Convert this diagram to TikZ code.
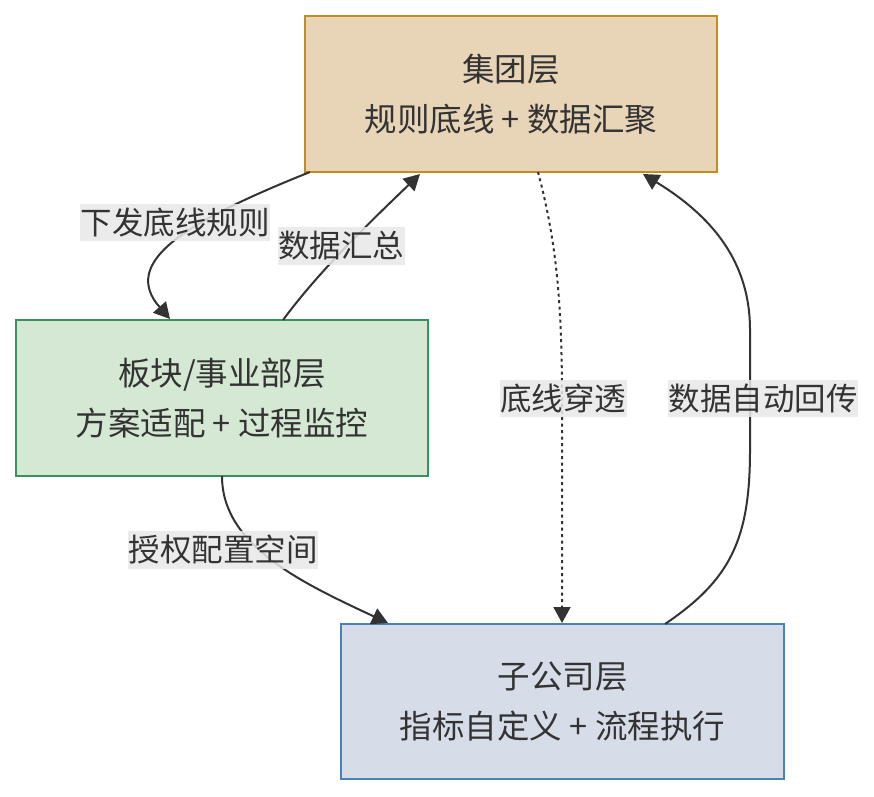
\documentclass[tikz,border=0pt]{standalone}
\usepackage{fontspec}
\setmainfont{Noto Sans CJK SC}
\usetikzlibrary{arrows.meta}
\definecolor{txt}{HTML}{333333}
\definecolor{topfill}{HTML}{E8D5B7}
\definecolor{topdraw}{HTML}{C18E1E}
\definecolor{midfill}{HTML}{D5E8D4}
\definecolor{middraw}{HTML}{3A9160}
\definecolor{botfill}{HTML}{D6DCE8}
\definecolor{botdraw}{HTML}{4A82B8}
\definecolor{lblfill}{HTML}{E8E8E8}
\tikzset{
  layer/.style={draw, line width=1.8pt, inner sep=0pt, align=center, text=txt,
    font=\fontsize{32.5}{50}\selectfont},
  lbl/.style={fill=lblfill, fill opacity=0.85, text opacity=1, text=txt,
    inner xsep=0.5pt, inner ysep=4pt, font=\fontsize{31.5}{38}\selectfont},
  conn/.style={draw=txt, line width=2pt, -{Triangle[length=16pt,width=17pt]}},
}
\begin{document}
\begin{tikzpicture}[x=1pt,y=-1pt]
\useasboundingbox (0,0) rectangle (874,796);
\node[layer, fill=topfill, draw=topdraw, minimum width=412, minimum height=156] (top) at (511,94) {集团层\\规则底线 + 数据汇聚};
\node[layer, fill=midfill, draw=middraw, minimum width=412, minimum height=156] (mid) at (222,398) {板块/事业部层\\方案适配 + 过程监控};
\node[layer, fill=botfill, draw=botdraw, minimum width=443, minimum height=155] (bot) at (562.5,701.5) {子公司层\\指标自定义 + 流程执行};

\coordinate (t1) at (310,172);
\coordinate (t2) at (420,174);
\coordinate (t3) at (538,172);
\coordinate (t4) at (643,174);
\coordinate (m1) at (170,319);
\coordinate (m2) at (283,320);
\coordinate (m3) at (222,476);
\coordinate (b1) at (388,623);
\coordinate (b2) at (562,623);
\coordinate (b3) at (665,624);

\draw[conn] (t1) .. controls (185,222) and (120,262) .. (m1);
\draw[conn] (m2) .. controls (320,270) and (370,222) .. (t2);
\draw[conn, dash pattern=on 3pt off 3.5pt] (t3) .. controls (556,240) and (562,300) .. (562,400) -- (b2);
\draw[conn] (b3) .. controls (730,580) and (750,540) .. (750,450) -- (750,330) .. controls (750,260) and (710,215) .. (t4);
\draw[conn] (m3) .. controls (222,545) and (300,582) .. (b1);

\node[lbl] (l1) at (175,222.5) {下发底线规则};
\node[lbl] (l2) at (341,246) {数据汇总};
\node[lbl] (l3) at (563,398.5) {底线穿透};
\node[lbl] (l4) at (763,398.5) {数据自动回传};
\node[lbl] (l5) at (223,550) {授权配置空间};
\end{tikzpicture}
\end{document}
